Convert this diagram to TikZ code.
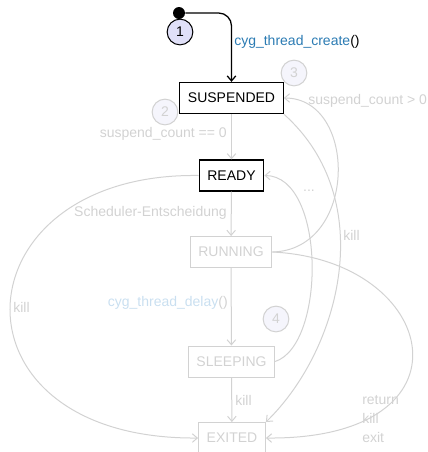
\documentclass[tikz,border=0pt]{standalone}
\usepackage{fontspec}
\setmainfont{Liberation Sans}
\usetikzlibrary{arrows.meta}
\definecolor{faded}{HTML}{D2D2D2}
\definecolor{callblue}{HTML}{2B7BB3}
\definecolor{callfaded}{HTML}{C9DFF0}
\definecolor{markfill}{HTML}{E0E0F8}
\definecolor{markfaded}{HTML}{F5F5FC}
\tikzset{
  state/.style={draw=faded, text=faded, line width=0.7pt, minimum height=21.7pt, inner xsep=5.7pt},
  active/.style={draw=black, text=black, line width=0.9pt},
  trans/.style={draw=faded, line width=0.7pt, -{Straight Barb[length=3.5pt,width=6pt]}},
  lbl/.style={text=faded, inner sep=0pt},
  marker/.style={circle, draw=faded, fill=markfaded, text=faded, minimum size=18pt, inner sep=0pt, line width=0.7pt},
}
\begin{document}
\begin{tikzpicture}[x=0.7pt, y=-0.7pt, font=\fontsize{9.8}{13.3}\selectfont]
\useasboundingbox (0,0) rectangle (428,452);

% states
\node[state, active] (susp) at (231.5,98) {SUSPENDED};
\node[state, active] (ready) at (231.5,175.5) {READY};
\node[state] (run) at (231,252) {RUNNING};
\node[state] (sleep) at (231.5,361.5) {SLEEPING};
\node[state] (exit) at (232,438) {EXITED};

% start
\node[circle, fill=black, minimum size=8.4pt, inner sep=0pt] (start) at (179,13) {};
\node[marker, draw=black, fill=markfill, text=black] (m1) at (180,32) {1};
\draw[black, line width=0.9pt, rounded corners=9pt, -{Straight Barb[length=3.5pt,width=6pt]}] (start) -| (susp);
\node[inner sep=0pt, anchor=west] (create) at (234,42) {\textcolor{callblue}{cyg\_thread\_create}()};

% transitions
\draw[trans] (susp) -- (ready);
\draw[trans] (ready) -- (run);
\draw[trans] (run) -- (sleep);
\draw[trans] (sleep) -- (exit);
\draw[trans] (run.east) .. controls (358,250) and (358,98) .. (susp.east); % back to suspended
\draw[trans] (sleep.east) .. controls (326,345) and (326,176) .. (ready.east); % wake up
\draw[trans] (susp.south east) .. controls (380,200) and (340,350) .. (exit.north east); % kill
\draw[trans] (ready.west) .. controls (-45,172) and (-60,440) .. (exit.west); % kill
\draw[trans] (run.east) .. controls (440,260) and (480,440) .. (exit.east); % return/kill/exit

% labels
\node[lbl, anchor=east] (lcount0) at (227,134) {suspend\_count == 0};
\node[marker] (m2) at (165,112) {2};
\node[lbl, anchor=west] (lcount1) at (308,101) {suspend\_count > 0};
\node[marker] (m3) at (294,73) {3};
\node[lbl, anchor=east] (lsched) at (227,213) {Scheduler-Entscheidung};
\node[inner sep=0pt, anchor=east] (ldelay) at (228,303) {\textcolor{callfaded}{cyg\_thread\_delay}\textcolor{faded}{()}};
\node[marker] (m4) at (276,319) {4};
\node[lbl] (ldots) at (309,191) {...};
\node[lbl, anchor=west] (lkillsusp) at (343,235) {kill};
\node[lbl, anchor=west] (lkillready) at (13,307) {kill};
\node[lbl, anchor=west] (lkillsleep) at (235,400) {kill};
\node[lbl, anchor=west, align=left] (lreturn) at (362,419) {return\\kill\\exit};
\end{tikzpicture}
\end{document}
